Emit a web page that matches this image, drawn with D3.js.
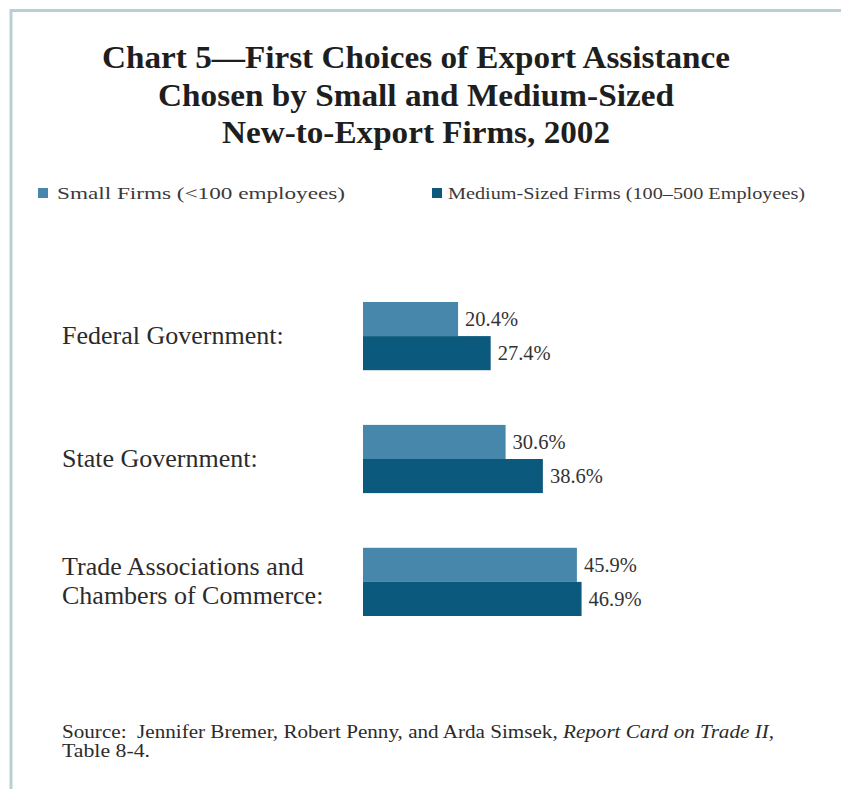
<!DOCTYPE html>
<html>
<head>
<meta charset="utf-8">
<script src="https://cdn.jsdelivr.net/npm/d3@7"></script>
<style>
  html, body { margin: 0; padding: 0; background: #fff; }
  svg { display: block; }
  text { font-family: "Liberation Serif", "DejaVu Serif", serif; fill: #262626; }
</style>
</head>
<body>
<svg id="chart" width="841" height="789"></svg>
<script>
// Data
const titleLines = [
  "Chart 5\u2014First Choices of Export Assistance",
  "Chosen by Small and Medium-Sized",
  "New-to-Export Firms, 2002"
];
const categories = ["Federal Government:", "State Government:", "Trade Associations and\nChambers of Commerce:"];
const seriesNames = ["Small Firms (<100 employees)", "Medium-Sized Firms (100\u2013500 Employees)"];
const smallFirms = [20.4, 30.6, 45.9];
const mediumFirms = [27.4, 38.6, 46.9];
const seriesColors = ["#4787ac", "#0b5a7d"];

const svg = d3.select("#chart");
const W = 841, H = 789;

// Frame lines along top and left edges
svg.append("line").attr("x1", 10).attr("x2", W).attr("y1", 10.5).attr("y2", 10.5)
  .attr("stroke", "#b8cfd4").attr("stroke-width", 3);
svg.append("line").attr("x1", 11).attr("x2", 11).attr("y1", 9).attr("y2", H)
  .attr("stroke", "#b8cfd4").attr("stroke-width", 3);

// Title
const titleWidths = [628, 516, 388];
svg.append("g").selectAll("text").data(titleLines).join("text")
  .attr("x", 416)
  .attr("y", (d, i) => 68 + i * 37.5)
  .attr("text-anchor", "middle")
  .attr("font-size", 31)
  .attr("font-weight", "bold")
  .attr("textLength", (d, i) => titleWidths[i])
  .attr("lengthAdjust", "spacingAndGlyphs")
  .style("fill", "#1e1e1e")
  .text(d => d);

// Legend
const legendX = [38, 432];
const legendW = [288, 357];
const legend = svg.append("g").selectAll("g").data(seriesNames).join("g")
  .attr("transform", (d, i) => `translate(${legendX[i]},188)`);
legend.append("rect").attr("width", 10).attr("height", 10)
  .attr("fill", (d, i) => seriesColors[i]);
legend.append("text")
  .attr("x", (d, i) => i === 0 ? 19 : 16)
  .attr("y", 11)
  .attr("font-size", 16)
  .attr("textLength", (d, i) => legendW[i])
  .attr("lengthAdjust", "spacingAndGlyphs")
  .style("fill", "#3a3a3a")
  .text(d => d);

// Scales
const x = d3.scaleLinear().domain([0, 50]).range([363, 596]);
const y = d3.scaleBand().domain(categories).range([302, 616]).paddingInner(0.445);
const ySeries = d3.scaleBand().domain([0, 1]).range([0, y.bandwidth()]);

const rows = categories.map((c, i) => ({ cat: c, values: [smallFirms[i], mediumFirms[i]] }));

const groups = svg.append("g").selectAll("g").data(rows).join("g")
  .attr("transform", d => `translate(0,${y(d.cat)})`);

groups.selectAll("rect").data(d => d.values).join("rect")
  .attr("x", x(0))
  .attr("y", (d, i) => ySeries(i))
  .attr("width", d => x(d) - x(0))
  .attr("height", ySeries.bandwidth())
  .attr("fill", (d, i) => seriesColors[i]);

// Value labels
groups.selectAll("text.val").data(d => d.values).join("text")
  .attr("class", "val")
  .attr("x", d => x(d) + 7)
  .attr("y", (d, i) => ySeries(i) + ySeries.bandwidth() / 2 + 7)
  .attr("font-size", 20.5)
  .style("fill", "#333")
  .text(d => d.toFixed(1) + "%");

// Category labels
groups.each(function(d) {
  const lines = d.cat.split("\n");
  const center = y.bandwidth() / 2;
  const lh = 29;
  d3.select(this).selectAll("text.cat").data(lines).join("text")
    .attr("class", "cat")
    .attr("x", 62)
    .attr("y", (l, j) => center + 8 - (lines.length - 1) * lh / 2 + j * lh)
    .attr("font-size", 26)
    .style("fill", "#2b2b2b")
    .text(l => l);
});

// Source note
const src = svg.append("text").attr("x", 62).attr("y", 738).attr("font-size", 18)
  .attr("textLength", 712).attr("lengthAdjust", "spacingAndGlyphs")
  .style("fill", "#2b2b2b");
src.append("tspan").text("Source:\u00a0\u00a0Jennifer Bremer, Robert Penny, and Arda Simsek, ");
src.append("tspan").attr("font-style", "italic").text("Report Card on Trade II");
src.append("tspan").text(",");
svg.append("text").attr("x", 62).attr("y", 757).attr("font-size", 18)
  .attr("textLength", 88).attr("lengthAdjust", "spacingAndGlyphs")
  .style("fill", "#2b2b2b")
  .text("Table 8-4.");
</script>
</body>
</html>
